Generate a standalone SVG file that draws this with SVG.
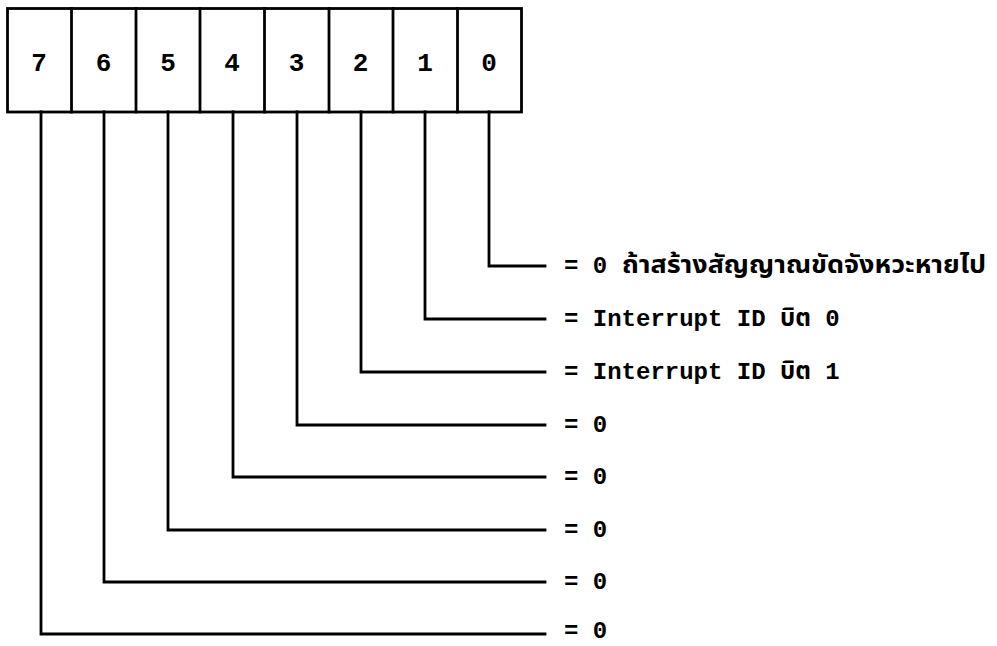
<svg xmlns="http://www.w3.org/2000/svg" width="997" height="646" viewBox="0 0 997 646">
<style>
.ln{fill:none;stroke:#000;stroke-width:2.8;stroke-linejoin:miter;stroke-linecap:square}
.cell{fill:#fff;stroke:#000;stroke-width:2.8}
.dg{font-family:"Liberation Mono","DejaVu Sans Mono",monospace;font-weight:bold;font-size:26px;text-anchor:middle;fill:#000}
.tx{font-family:"Liberation Mono","Noto Sans Thai","DejaVu Sans Mono",monospace;font-weight:bold;font-size:24px;fill:#000}
</style>
<rect width="997" height="646" fill="#fff"/>
<g id="register">
  <rect class="cell" x="7.5" y="8.5" width="514" height="103.5"/>
  <g id="bit7"><text class="dg" x="39" y="71">7</text></g>
  <line class="ln" x1="71.5" y1="8.5" x2="71.5" y2="112"/>
  <g id="bit6"><text class="dg" x="103.5" y="71">6</text></g>
  <line class="ln" x1="136" y1="8.5" x2="136" y2="112"/>
  <g id="bit5"><text class="dg" x="168" y="71">5</text></g>
  <line class="ln" x1="200" y1="8.5" x2="200" y2="112"/>
  <g id="bit4"><text class="dg" x="232" y="71">4</text></g>
  <line class="ln" x1="264.5" y1="8.5" x2="264.5" y2="112"/>
  <g id="bit3"><text class="dg" x="296.5" y="71">3</text></g>
  <line class="ln" x1="329" y1="8.5" x2="329" y2="112"/>
  <g id="bit2"><text class="dg" x="360.5" y="71">2</text></g>
  <line class="ln" x1="393" y1="8.5" x2="393" y2="112"/>
  <g id="bit1"><text class="dg" x="425" y="71">1</text></g>
  <line class="ln" x1="457.5" y1="8.5" x2="457.5" y2="112"/>
  <g id="bit0"><text class="dg" x="489" y="71">0</text></g>
</g>
<g id="connectors">
  <polyline class="ln" points="489,112 489,266 545,266"/>
  <polyline class="ln" points="425,112 425,319 545,319"/>
  <polyline class="ln" points="361,112 361,372 545,372"/>
  <polyline class="ln" points="297,112 297,425 545,425"/>
  <polyline class="ln" points="233,112 233,477 545,477"/>
  <polyline class="ln" points="168,112 168,530 545,530"/>
  <polyline class="ln" points="104,112 104,582 545,582"/>
  <polyline class="ln" points="41,112 41,634 545,634"/>
</g>
<g id="label0">
  <text class="tx" x="564" y="273">= 0</text>
  <text class="tx" x="622" y="273" textLength="364" lengthAdjust="spacingAndGlyphs">ถ้าสร้างสัญญาณขัดจังหวะหายไป</text>
</g>
<g id="label1"><text class="tx" x="564" y="326">= Interrupt ID บิต 0</text></g>
<g id="label2"><text class="tx" x="564" y="379">= Interrupt ID บิต 1</text></g>
<g id="label3"><text class="tx" x="564" y="432">= 0</text></g>
<g id="label4"><text class="tx" x="564" y="484">= 0</text></g>
<g id="label5"><text class="tx" x="564" y="537">= 0</text></g>
<g id="label6"><text class="tx" x="564" y="589">= 0</text></g>
<g id="label7"><text class="tx" x="564" y="638">= 0</text></g>
</svg>
